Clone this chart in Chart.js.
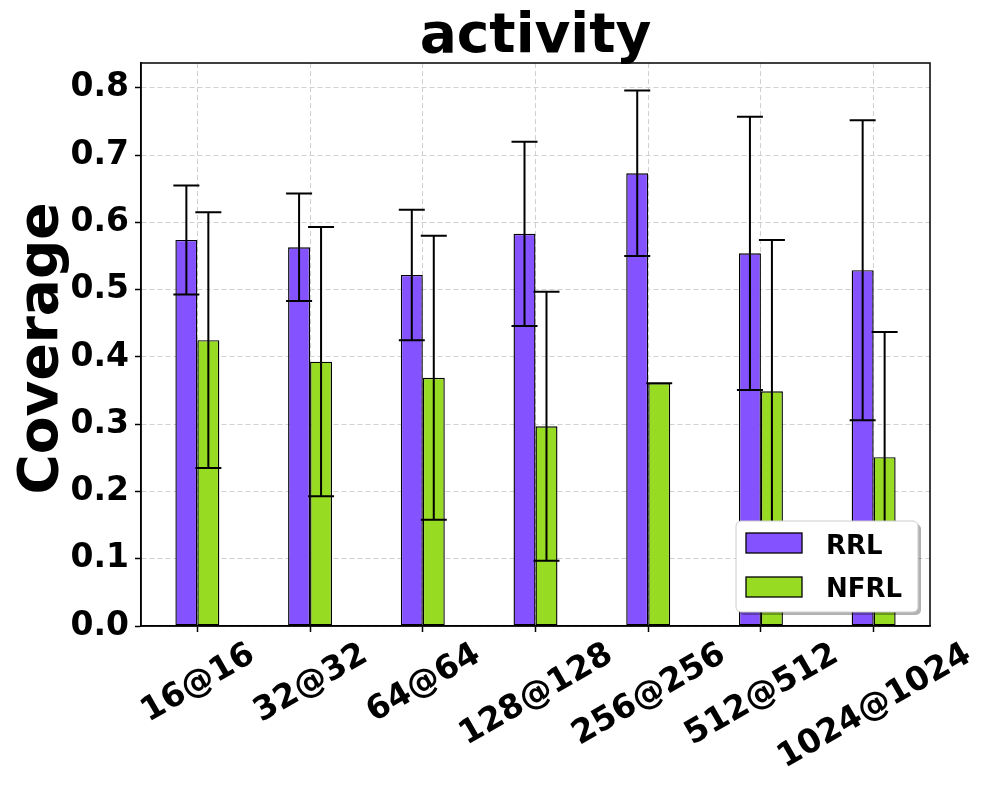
<!DOCTYPE html>
<html>
<head>
<meta charset="utf-8">
<script src="https://cdn.jsdelivr.net/npm/chart.js@4.4.1/dist/chart.umd.min.js"></script>
<style>
  body { margin: 0; background: #fff; }
</style>
</head>
<body>
<canvas id="chart" width="988" height="789"></canvas>
<script>
var categories = ["16@16", "32@32", "64@64", "128@128", "256@256", "512@512", "1024@1024"];
var rrlValues = [0.574, 0.563, 0.522, 0.583, 0.673, 0.554, 0.529];
var rrlErrors = [0.081, 0.080, 0.097, 0.137, 0.123, 0.203, 0.223];
var nfrlValues = [0.425, 0.393, 0.369, 0.297, 0.361, 0.349, 0.251];
var nfrlErrors = [0.190, 0.200, 0.211, 0.200, 0.000, 0.225, 0.186];
var yTicks = [0.0, 0.1, 0.2, 0.3, 0.4, 0.5, 0.6, 0.7, 0.8];

var FONT = "'DejaVu Sans', sans-serif";
var purple = '#8453ff';
var green = '#97db23';

// error bars on top of the bars
var errorBars = {
  id: 'errorBars',
  afterDatasetsDraw: function(chart) {
    var ctx = chart.ctx;
    var y = chart.scales.y;
    ctx.save();
    ctx.strokeStyle = '#000';
    ctx.lineWidth = 2;
    chart.data.datasets.forEach(function(ds, i) {
      var meta = chart.getDatasetMeta(i);
      meta.data.forEach(function(bar, j) {
        var top = y.getPixelForValue(ds.data[j] + ds.errors[j]);
        var bottom = y.getPixelForValue(ds.data[j] - ds.errors[j]);
        ctx.beginPath();
        ctx.moveTo(bar.x, top);
        ctx.lineTo(bar.x, bottom);
        ctx.moveTo(bar.x - 13, top);
        ctx.lineTo(bar.x + 13, top);
        ctx.moveTo(bar.x - 13, bottom);
        ctx.lineTo(bar.x + 13, bottom);
        ctx.stroke();
      });
    });
    ctx.restore();
  }
};

// frame, title, axis labels, legend
var decorations = {
  id: 'decorations',
  afterDraw: function(chart) {
    var ctx = chart.ctx;
    var a = chart.chartArea;
    var x = chart.scales.x;
    ctx.save();

    ctx.strokeStyle = '#000';
    ctx.lineWidth = 1.5;
    ctx.strokeRect(a.left, a.top, a.right - a.left, a.bottom - a.top);

    ctx.fillStyle = '#000';
    ctx.font = 'bold 55px ' + FONT;
    ctx.textAlign = 'center';
    ctx.textBaseline = 'alphabetic';
    ctx.fillText('activity', (a.left + a.right) / 2, 52);

    ctx.save();
    ctx.translate(57, (a.top + a.bottom) / 2 + 4);
    ctx.rotate(-Math.PI / 2);
    ctx.fillText('Coverage', 0, 0);
    ctx.restore();

    // rotated category labels, centred under each tick
    ctx.font = 'bold 33px ' + FONT;
    ctx.textBaseline = 'middle';
    var ang = Math.PI / 6;
    categories.forEach(function(label, i) {
      var w = ctx.measureText(label).width;
      var h = 38;
      var boxH = w * Math.sin(ang) + h * Math.cos(ang);
      var cx = x.getPixelForValue(i) + 1;
      var cy = a.bottom + 10 + boxH / 2;
      ctx.save();
      ctx.translate(cx, cy);
      ctx.rotate(-ang);
      ctx.fillText(label, 0, 0);
      ctx.restore();
    });

    // legend box
    var lx = 736, ly = 521, lw = 182, lh = 91;
    ctx.fillStyle = 'rgba(0,0,0,0.3)';
    ctx.beginPath();
    ctx.roundRect(lx + 3, ly + 3, lw, lh, 5);
    ctx.fill();
    ctx.fillStyle = '#fff';
    ctx.strokeStyle = '#cccccc';
    ctx.lineWidth = 1;
    ctx.beginPath();
    ctx.roundRect(lx, ly, lw, lh, 5);
    ctx.fill();
    ctx.stroke();

    var items = [[purple, 'RRL', 533, 554], [green, 'NFRL', 577, 597]];
    ctx.font = 'bold 26px ' + FONT;
    ctx.textAlign = 'left';
    ctx.textBaseline = 'alphabetic';
    items.forEach(function(it) {
      ctx.fillStyle = it[0];
      ctx.fillRect(746, it[2], 56, 20);
      ctx.strokeStyle = '#000';
      ctx.lineWidth = 1.3;
      ctx.strokeRect(746, it[2], 56, 20);
      ctx.fillStyle = '#000';
      ctx.fillText(it[1], 826, it[3]);
    });

    ctx.restore();
  }
};

new Chart(document.getElementById('chart'), {
  type: 'bar',
  data: {
    labels: categories,
    datasets: [{
      label: 'RRL',
      data: rrlValues,
      errors: rrlErrors,
      backgroundColor: purple,
      borderColor: '#000',
      borderWidth: 1.4,
      borderSkipped: false
    }, {
      label: 'NFRL',
      data: nfrlValues,
      errors: nfrlErrors,
      backgroundColor: green,
      borderColor: '#000',
      borderWidth: 1.4,
      borderSkipped: false
    }]
  },
  options: {
    responsive: false,
    animation: false,
    categoryPercentage: 0.39,
    barPercentage: 1.0,
    layout: { padding: { left: 0, top: 63, right: 58, bottom: 163 } },
    plugins: {
      legend: { display: false },
      title: { display: false },
      tooltip: { enabled: false }
    },
    scales: {
      x: {
        type: 'category',
        offset: true,
        afterFit: function(s) { s.height = 0; },
        ticks: { display: false },
        grid: { offset: false, color: '#d0d0d0', tickColor: '#000', tickLength: 6, tickWidth: 1.5 },
        border: { display: true, color: '#000', width: 1.5, dash: [5, 3] }
      },
      y: {
        min: 0,
        max: 0.837,
        afterBuildTicks: function(s) {
          s.ticks = yTicks.map(function(v) { return { value: v }; });
        },
        afterFit: function(s) { s.width = 141; },
        ticks: {
          color: '#000',
          padding: 6,
          font: { family: FONT, weight: 'bold', size: 33 },
          callback: function(v) { return v.toFixed(1); }
        },
        grid: { color: '#d0d0d0', tickColor: '#000', tickLength: 6, tickWidth: 1.5 },
        border: { display: true, color: '#000', width: 1.5, dash: [5, 3] }
      }
    }
  },
  plugins: [errorBars, decorations]
});
</script>
</body>
</html>
